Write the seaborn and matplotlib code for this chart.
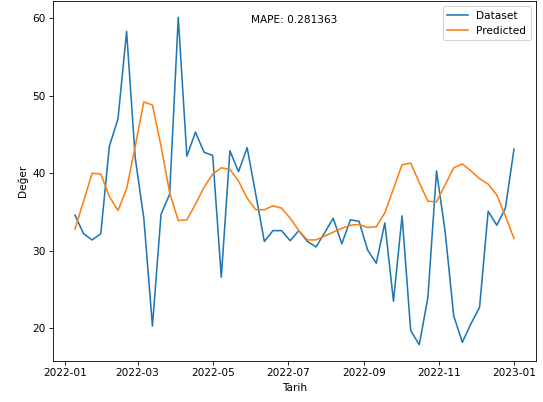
import numpy as np
import pandas as pd
import seaborn as sns
import matplotlib
matplotlib.use('Agg')
import matplotlib.pyplot as plt

# weekly dates (Sundays)
dates = pd.date_range('2022-01-09', '2023-01-01', freq='W-SUN')

dataset = [34.6, 32.2, 31.4, 32.2, 43.5, 47.0, 58.3, 42.0, 34.2, 20.3,
           34.7, 37.3, 60.1, 42.2, 45.3, 42.7, 42.3, 26.6, 42.9, 40.2,
           43.3, 37.3, 31.2, 32.6, 32.6, 31.3, 32.6, 31.2, 30.5, 32.3,
           34.2, 30.9, 34.0, 33.8, 30.1, 28.4, 33.6, 23.5, 34.5, 19.7,
           17.9, 24.0, 40.3, 32.5, 21.6, 18.2, 20.6, 22.7, 35.1, 33.3,
           35.5, 43.1]

predicted = [32.8, 36.4, 40.0, 39.9, 37.0, 35.2, 38.0, 43.5, 49.2, 48.8,
             43.5, 37.5, 33.9, 34.0, 36.0, 38.2, 39.9, 40.7, 40.5, 39.0,
             36.8, 35.3, 35.3, 35.8, 35.5, 34.2, 32.6, 31.4, 31.4, 31.9,
             32.4, 32.9, 33.3, 33.4, 33.0, 33.1, 34.9, 38.0, 41.1, 41.3,
             38.8, 36.4, 36.3, 38.5, 40.7, 41.2, 40.3, 39.3, 38.6, 37.2,
             34.5, 31.6]

mape = 0.281363

df = pd.DataFrame({'Tarih': dates, 'Dataset': dataset, 'Predicted': predicted})

# reference looks like a downscaled default figure, so draw at a lower dpi
dpi = 76
fig, ax = plt.subplots(figsize=(543 / dpi, 402 / dpi), dpi=dpi)
fig.subplots_adjust(left=0.0976, right=0.987, bottom=0.102, top=0.9975)

sns.lineplot(data=df, x='Tarih', y='Dataset', label='Dataset', ax=ax)
sns.lineplot(data=df, x='Tarih', y='Predicted', label='Predicted', ax=ax)

ax.text(0.5, 0.947, f'MAPE: {mape}', transform=ax.transAxes,
        ha='center', va='center')
ax.set_xlabel('Tarih')
ax.set_ylabel('Değer')
ax.legend(loc='upper right')

fig.savefig('out.png', dpi=dpi)
